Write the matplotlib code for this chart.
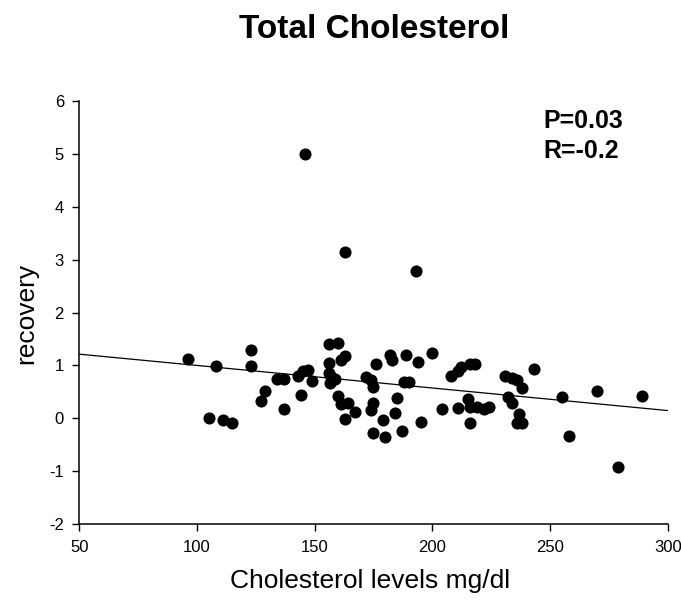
import numpy as np
import matplotlib
matplotlib.use('Agg')
import matplotlib.pyplot as plt

plt.rcParams['font.family'] = ['Liberation Sans', 'DejaVu Sans']
plt.rcParams['axes.unicode_minus'] = False

# cholesterol (mg/dl) and recovery
cholesterol = [96, 105, 108, 111, 115, 123, 123, 127, 129, 134,
               137, 137, 143, 144, 145, 146, 147, 149, 156, 160,
               156, 161, 163, 156, 157, 156.5, 158.5, 160, 161, 164,
               167, 163, 163, 172, 174, 175, 176, 175, 174, 175,
               180, 179, 182, 183, 184, 185, 187, 188, 189, 190,
               193, 194, 195, 200, 204, 208, 211, 212, 211, 215,
               216, 218, 216, 216, 219, 222, 224, 231, 232, 234,
               234, 236, 238, 237, 236, 238, 243, 255, 258, 270,
               279, 289]
recovery = [1.13, 0.0, 0.99, -0.03, -0.08, 1.29, 0.99, 0.32, 0.51, 0.75,
            0.75, 0.18, 0.80, 0.45, 0.90, 5.0, 0.92, 0.71, 1.40, 1.42,
            1.05, 1.10, 1.17, 0.85, 0.78, 0.67, 0.75, 0.42, 0.27, 0.29,
            0.12, -0.02, 3.14, 0.78, 0.72, 0.60, 1.02, 0.29, 0.15, -0.28,
            -0.35, -0.03, 1.20, 1.10, 0.10, 0.38, -0.23, 0.69, 1.19, 0.69,
            2.78, 1.06, -0.07, 1.24, 0.18, 0.80, 0.89, 0.97, 0.20, 0.37,
            1.03, 1.03, 0.21, -0.08, 0.21, 0.18, 0.21, 0.80, 0.40, 0.76,
            0.30, 0.73, 0.58, 0.09, -0.08, -0.08, 0.93, 0.41, -0.34, 0.52,
            -0.91, 0.43]

x_ticks = [50, 100, 150, 200, 250, 300]
y_ticks = [-2, -1, 0, 1, 2, 3, 4, 5, 6]

fig = plt.figure(figsize=(6.81, 6.01), dpi=100)
ax = fig.add_axes([0.1164, 0.1276, 0.8641, 0.7048])

ax.scatter(cholesterol, recovery, s=76, color='black', zorder=3, linewidths=0)

# linear regression line across the full x range
slope, intercept = np.polyfit(cholesterol, recovery, 1)
xfit = np.array([50, 300])
ax.plot(xfit, intercept + slope * xfit, color='black', lw=0.9, zorder=2)

ax.set_xlim(50, 300)
ax.set_ylim(-2, 6)
ax.set_xticks(x_ticks)
ax.set_yticks(y_ticks)
ax.tick_params(direction='out', length=5, width=1, labelsize=12, pad=6)
for side in ['top', 'right']:
    ax.spines[side].set_visible(False)
for side in ['left', 'bottom']:
    ax.spines[side].set_linewidth(1.1)

ax.text(247, 5.48, 'P=0.03', fontsize=18, fontweight='bold', va='baseline')
ax.text(247, 4.92, 'R=-0.2', fontsize=18, fontweight='bold', va='baseline')

fig.text(0.549, 0.937, 'Total Cholesterol', fontsize=24, fontweight='bold',
         ha='center', va='baseline')
fig.text(0.543, 0.022, 'Cholesterol levels mg/dl', fontsize=19,
         ha='center', va='baseline')
fig.text(0.038, 0.479, 'recovery', fontsize=19, rotation=90,
         ha='center', va='center')

fig.savefig('out.png', dpi=100)
